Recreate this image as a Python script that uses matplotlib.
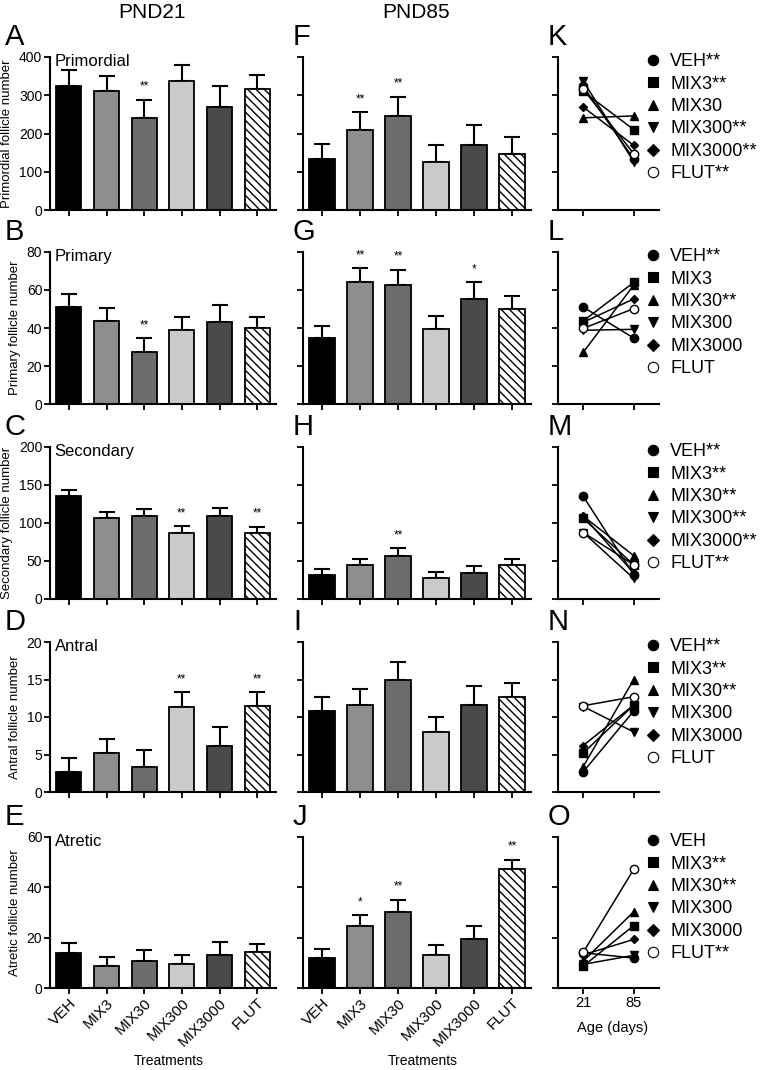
import matplotlib
matplotlib.use("Agg")
import matplotlib.pyplot as plt
import numpy as np
from matplotlib.lines import Line2D

plt.rcParams['font.family'] = ['Liberation Sans', 'DejaVu Sans']
plt.rcParams['hatch.linewidth'] = 1.0

# data
treatments = ['VEH', 'MIX3', 'MIX30', 'MIX300', 'MIX3000', 'FLUT']
ages = ['21', '85']

pnd21_primordial = [323, 310, 241, 337, 269, 316]
pnd21_primordial_err = [43, 41, 47, 42, 55, 38]
pnd85_primordial = [133, 210, 246, 126, 169, 147]
pnd85_primordial_err = [40, 45, 50, 43, 54, 44]

pnd21_primary = [51.0, 43.7, 27.2, 38.8, 43.0, 39.8]
pnd21_primary_err = [6.9, 6.7, 7.5, 6.8, 8.9, 6.2]
pnd85_primary = [34.7, 64.0, 62.6, 39.3, 55.3, 50.2]
pnd85_primary_err = [6.3, 7.4, 8.1, 7.0, 8.9, 6.8]

pnd21_secondary = [135, 106, 109, 87.5, 109, 87.5]
pnd21_secondary_err = [8, 8, 9, 8.5, 10.5, 7.5]
pnd85_secondary = [32, 45, 57, 27, 34, 45]
pnd85_secondary_err = [7, 8, 10, 8, 10, 8]

pnd21_antral = [2.7, 5.2, 3.4, 11.4, 6.2, 11.5]
pnd21_antral_err = [1.9, 1.9, 2.2, 1.9, 2.5, 1.8]
pnd85_antral = [10.8, 11.6, 15.0, 8.0, 11.6, 12.7]
pnd85_antral_err = [1.9, 2.1, 2.3, 2.0, 2.5, 1.9]

pnd21_atretic = [14.0, 8.7, 10.7, 9.4, 13.2, 14.2]
pnd21_atretic_err = [3.9, 3.8, 4.3, 3.9, 5.0, 3.4]
pnd85_atretic = [11.9, 24.8, 30.3, 13.0, 19.3, 47.2]
pnd85_atretic_err = [3.7, 4.2, 4.8, 4.0, 5.2, 3.8]

stars21 = [
    ['', '', '**', '', '', ''],
    ['', '', '**', '', '', ''],
    ['', '', '', '**', '', '**'],
    ['', '', '', '**', '', '**'],
    ['', '', '', '', '', ''],
]
stars85 = [
    ['', '**', '**', '', '', ''],
    ['', '**', '**', '', '*', ''],
    ['', '', '**', '', '', ''],
    ['', '', '', '', '', ''],
    ['', '*', '**', '', '', '**'],
]

legend_labels = [
    ['VEH**', 'MIX3**', 'MIX30', 'MIX300**', 'MIX3000**', 'FLUT**'],
    ['VEH**', 'MIX3', 'MIX30**', 'MIX300', 'MIX3000', 'FLUT'],
    ['VEH**', 'MIX3**', 'MIX30**', 'MIX300**', 'MIX3000**', 'FLUT**'],
    ['VEH**', 'MIX3**', 'MIX30**', 'MIX300', 'MIX3000', 'FLUT'],
    ['VEH', 'MIX3**', 'MIX30**', 'MIX300', 'MIX3000', 'FLUT**'],
]

rows = [
    ('Primordial', pnd21_primordial, pnd21_primordial_err, pnd85_primordial, pnd85_primordial_err, 400, 100),
    ('Primary', pnd21_primary, pnd21_primary_err, pnd85_primary, pnd85_primary_err, 80, 20),
    ('Secondary', pnd21_secondary, pnd21_secondary_err, pnd85_secondary, pnd85_secondary_err, 200, 50),
    ('Antral', pnd21_antral, pnd21_antral_err, pnd85_antral, pnd85_antral_err, 20, 5),
    ('Atretic', pnd21_atretic, pnd21_atretic_err, pnd85_atretic, pnd85_atretic_err, 60, 20),
]
letters = ['ABCDE', 'FGHIJ', 'KLMNO']

bar_colors = ['#000000', '#8e8e8e', '#6c6c6c', '#cacaca', '#4a4a4a', 'white']
markers = ['o', 's', '^', 'v', 'D', 'o']
msizes = [6, 6, 6, 6, 4.5, 6]
mfaces = ['black'] * 5 + ['white']

W, H = 762, 1070
fig = plt.figure(figsize=(W / 100, H / 100), dpi=100)


def rect(x0, y0, x1, y1):
    return [x0 / W, 1 - y1 / H, (x1 - x0) / W, (y1 - y0) / H]


row_y = [(57, 210), (252, 404), (447, 599), (642, 792), (837, 988)]
col_x = [(50, 276), (303, 531), (558, 659)]


def style_axis(ax):
    for s in ['top', 'right']:
        ax.spines[s].set_visible(False)
    for s in ['left', 'bottom']:
        ax.spines[s].set_linewidth(1.5)
    ax.tick_params(width=1.3, length=4, labelsize=10, pad=1.5)


def bar_panel(ax, vals, errs, stars, ymax, ystep, show_ylabels):
    x = np.arange(len(treatments))
    bars = ax.bar(x, vals, width=0.67, color=bar_colors, edgecolor='black',
                  linewidth=1.3, zorder=2)
    bars[-1].set_hatch('\\\\\\\\')
    ax.errorbar(x, vals, yerr=[np.zeros(len(vals)), errs], fmt='none',
                ecolor='black', elinewidth=1.5, capsize=5.8, capthick=1.5, zorder=1)
    for xi, v, e, s in zip(x, vals, errs, stars):
        if s:
            ax.annotate(s, (xi, v + e), xytext=(0, 5), textcoords='offset points',
                        ha='center', va='bottom', fontsize=8.5)
    ax.set_xlim(-0.5, 5.5)
    ax.set_ylim(0, ymax)
    ax.set_yticks(np.arange(0, ymax + 1, ystep))
    ax.set_xticks(x)
    style_axis(ax)
    if not show_ylabels:
        ax.set_yticklabels([])


for r, (name, v21, e21, v85, e85, ymax, ystep) in enumerate(rows):
    y0, y1 = row_y[r]
    last = r == len(rows) - 1

    ax1 = fig.add_axes(rect(col_x[0][0], y0, col_x[0][1], y1))
    bar_panel(ax1, v21, e21, stars21[r], ymax, ystep, True)
    ax1.set_ylabel(name + ' follicle number', fontsize=9.5, labelpad=4)
    ax1.text(0.02, 0.97, name, transform=ax1.transAxes, fontsize=12,
             ha='left', va='center')

    ax2 = fig.add_axes(rect(col_x[1][0], y0, col_x[1][1], y1))
    bar_panel(ax2, v85, e85, stars85[r], ymax, ystep, False)

    for c, ax in enumerate((ax1, ax2)):
        if last:
            ax.set_xticklabels(treatments, rotation=45, ha='right',
                               rotation_mode='anchor', fontsize=11)
            fig.text((col_x[c][0] + col_x[c][1]) / 2 / W + 6 / W, 1 - 1061 / H,
                     'Treatments', fontsize=10, ha='center', va='center')
        else:
            ax.set_xticklabels([])

    ax3 = fig.add_axes(rect(col_x[2][0], y0, col_x[2][1], y1))
    handles = []
    for i in range(len(treatments)):
        ax3.plot([0, 1], [v21[i], v85[i]], color='black', lw=1.1,
                 marker=markers[i], ms=msizes[i], mfc=mfaces[i], mec='black',
                 mew=1.0)
        handles.append(Line2D([], [], ls='none', marker=markers[i],
                              ms=msizes[i] + 1.5, mfc=mfaces[i], mec='black',
                              mew=0.8))
    ax3.set_xlim(-0.5, 1.5)
    ax3.set_ylim(0, ymax)
    ax3.set_yticks(np.arange(0, ymax + 1, ystep))
    ax3.set_yticklabels([])
    ax3.set_xticks([0, 1])
    style_axis(ax3)
    if last:
        ax3.set_xticklabels(ages, fontsize=10.5)
        fig.text(613 / W, 1 - 1028 / H, 'Age (days)', fontsize=10.5,
                 ha='center', va='center')
    else:
        ax3.set_xticklabels([])
    ax3.legend(handles, legend_labels[r], loc='upper left',
               bbox_to_anchor=(0.87, 1.025), frameon=False, fontsize=13,
               handlelength=0.8, handletextpad=0.55, labelspacing=0.3,
               borderaxespad=0, borderpad=0)

    for c in range(3):
        fig.text(col_x[c][0] / W - (45 if c == 0 else 10) / W, 1 - (y0 - 6) / H,
                 letters[c][r], fontsize=21, ha='left', va='bottom')

fig.text(152 / W, 1 - 12 / H, 'PND21', fontsize=15, ha='center', va='center')
fig.text(416 / W, 1 - 12 / H, 'PND85', fontsize=15, ha='center', va='center')

fig.savefig('out.png', dpi=100)
